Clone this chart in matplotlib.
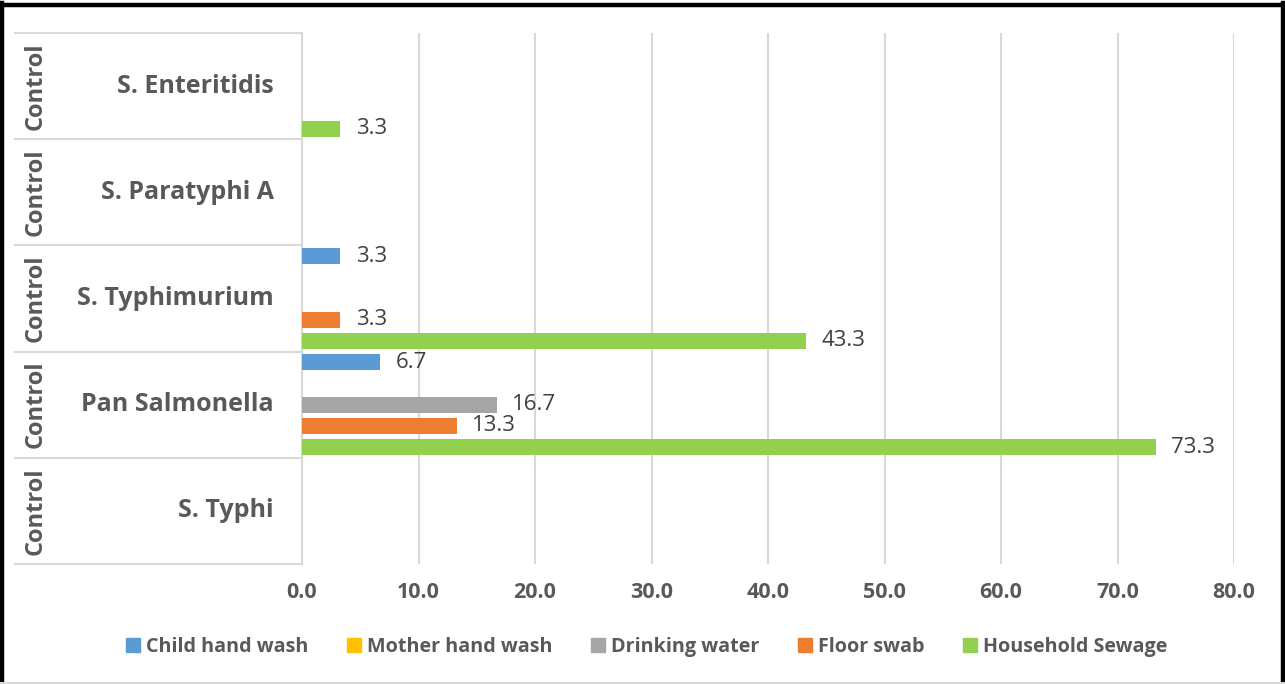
import matplotlib
matplotlib.use("Agg")
import matplotlib.pyplot as plt
from matplotlib.patches import Rectangle
from matplotlib.lines import Line2D
from matplotlib.transforms import offset_copy
import numpy as np

plt.rcParams['font.family'] = ['Open Sans', 'DejaVu Sans']

# Categories listed bottom to top
categories = ["S. Typhi", "Pan Salmonella", "S. Typhimurium", "S. Paratyphi A", "S. Enteritidis"]
group_label = "Control"

series_names = ["Child hand wash", "Mother hand wash", "Drinking water", "Floor swab", "Household Sewage"]
child_hand_wash = [0, 6.7, 3.3, 0, 0]
mother_hand_wash = [0, 0, 0, 0, 0]
drinking_water = [0, 16.7, 0, 0, 0]
floor_swab = [0, 13.3, 3.3, 0, 0]
household_sewage = [0, 73.3, 43.3, 0, 3.3]
series_values = [child_hand_wash, mother_hand_wash, drinking_water, floor_swab, household_sewage]
series_colors = ["#5B9BD5", "#FFC000", "#A5A5A5", "#ED7D31", "#92D050"]

x_ticks = [0, 10, 20, 30, 40, 50, 60, 70, 80]

W, H = 1285, 684
fig = plt.figure(figsize=(W / 100, H / 100), dpi=100)
fig.patch.set_facecolor("white")

# axes in pixel coordinates
left, right, top, bottom = 302, 1234, 33, 564
ax = fig.add_axes([left / W, 1 - bottom / H, (right - left) / W, (bottom - top) / H])

text_gray = "#595959"
grid_gray = "#D9D9D9"

step = 0.2
bar_h = 0.15
y_base = np.arange(len(categories))
label_tr = offset_copy(ax.transData, fig=fig, x=11, y=0, units="points")
for i, (name, vals, col) in enumerate(zip(series_names, series_values, series_colors)):
    ypos = y_base + (2 - i) * step
    ax.barh(ypos, vals, height=bar_h, color=col, label=name, zorder=3)
    for y, v in zip(ypos, vals):
        if v > 0:
            ax.text(v, y, f"{v:.1f}", va="center", ha="left", transform=label_tr,
                    fontsize=16, color="#404040", zorder=4)

ax.set_xlim(0, 80)
ax.set_ylim(-0.5, len(categories) - 0.5)
ax.set_xticks(x_ticks)
ax.set_xticklabels([f"{t:.1f}" for t in x_ticks], fontsize=15.5, fontweight="bold", color=text_gray)
ax.tick_params(axis="x", length=0, pad=13)
ax.set_yticks([])
ax.grid(axis="x", color=grid_gray, linewidth=1.5, zorder=0)
for s in ["top", "right", "bottom"]:
    ax.spines[s].set_visible(False)
ax.spines["left"].set_color(grid_gray)
ax.spines["left"].set_linewidth(1.5)

# category separators and labels in the left margin
for b in np.arange(-0.5, len(categories), 1.0):
    yb = 1 - (bottom - (b + 0.5) * (bottom - top) / len(categories)) / H
    fig.add_artist(Line2D([15 / W, left / W], [yb, yb], color=grid_gray, linewidth=1.5))

for k, cat in enumerate(categories):
    yc = 1 - (bottom - (k + 0.5) * (bottom - top) / len(categories)) / H
    fig.text(274 / W, yc, cat, ha="right", va="center", fontsize=18,
             fontweight="bold", color=text_gray)
    fig.text(36 / W, yc, group_label, ha="center", va="center", fontsize=17,
             fontweight="bold", color=text_gray, rotation=90)

# legend
handles = [Rectangle((0, 0), 1, 1, color=c) for c in series_colors]
leg = fig.legend(handles, series_names, loc="center", bbox_to_anchor=(647 / W, 1 - 647 / H),
                 ncol=5, frameon=False, handlelength=0.72, handleheight=0.72,
                 handletextpad=0.3, columnspacing=1.95,
                 prop={"weight": "bold", "size": 14.2})
for t in leg.get_texts():
    t.set_color(text_gray)

# outer frame
fig.add_artist(Line2D([2 / W, 2 / W], [0, 1 - 3 / H], color="black", linewidth=3.2))
fig.add_artist(Line2D([1283 / W, 1283 / W], [0, 1 - 3 / H], color="black", linewidth=3.2))
fig.add_artist(Line2D([0, 1], [1 - 5 / H, 1 - 5 / H], color="black", linewidth=3.2))
fig.add_artist(Line2D([0, 1], [1.5 / H, 1.5 / H], color=grid_gray, linewidth=1.5))

fig.savefig("out.png", dpi=100, facecolor="white")
